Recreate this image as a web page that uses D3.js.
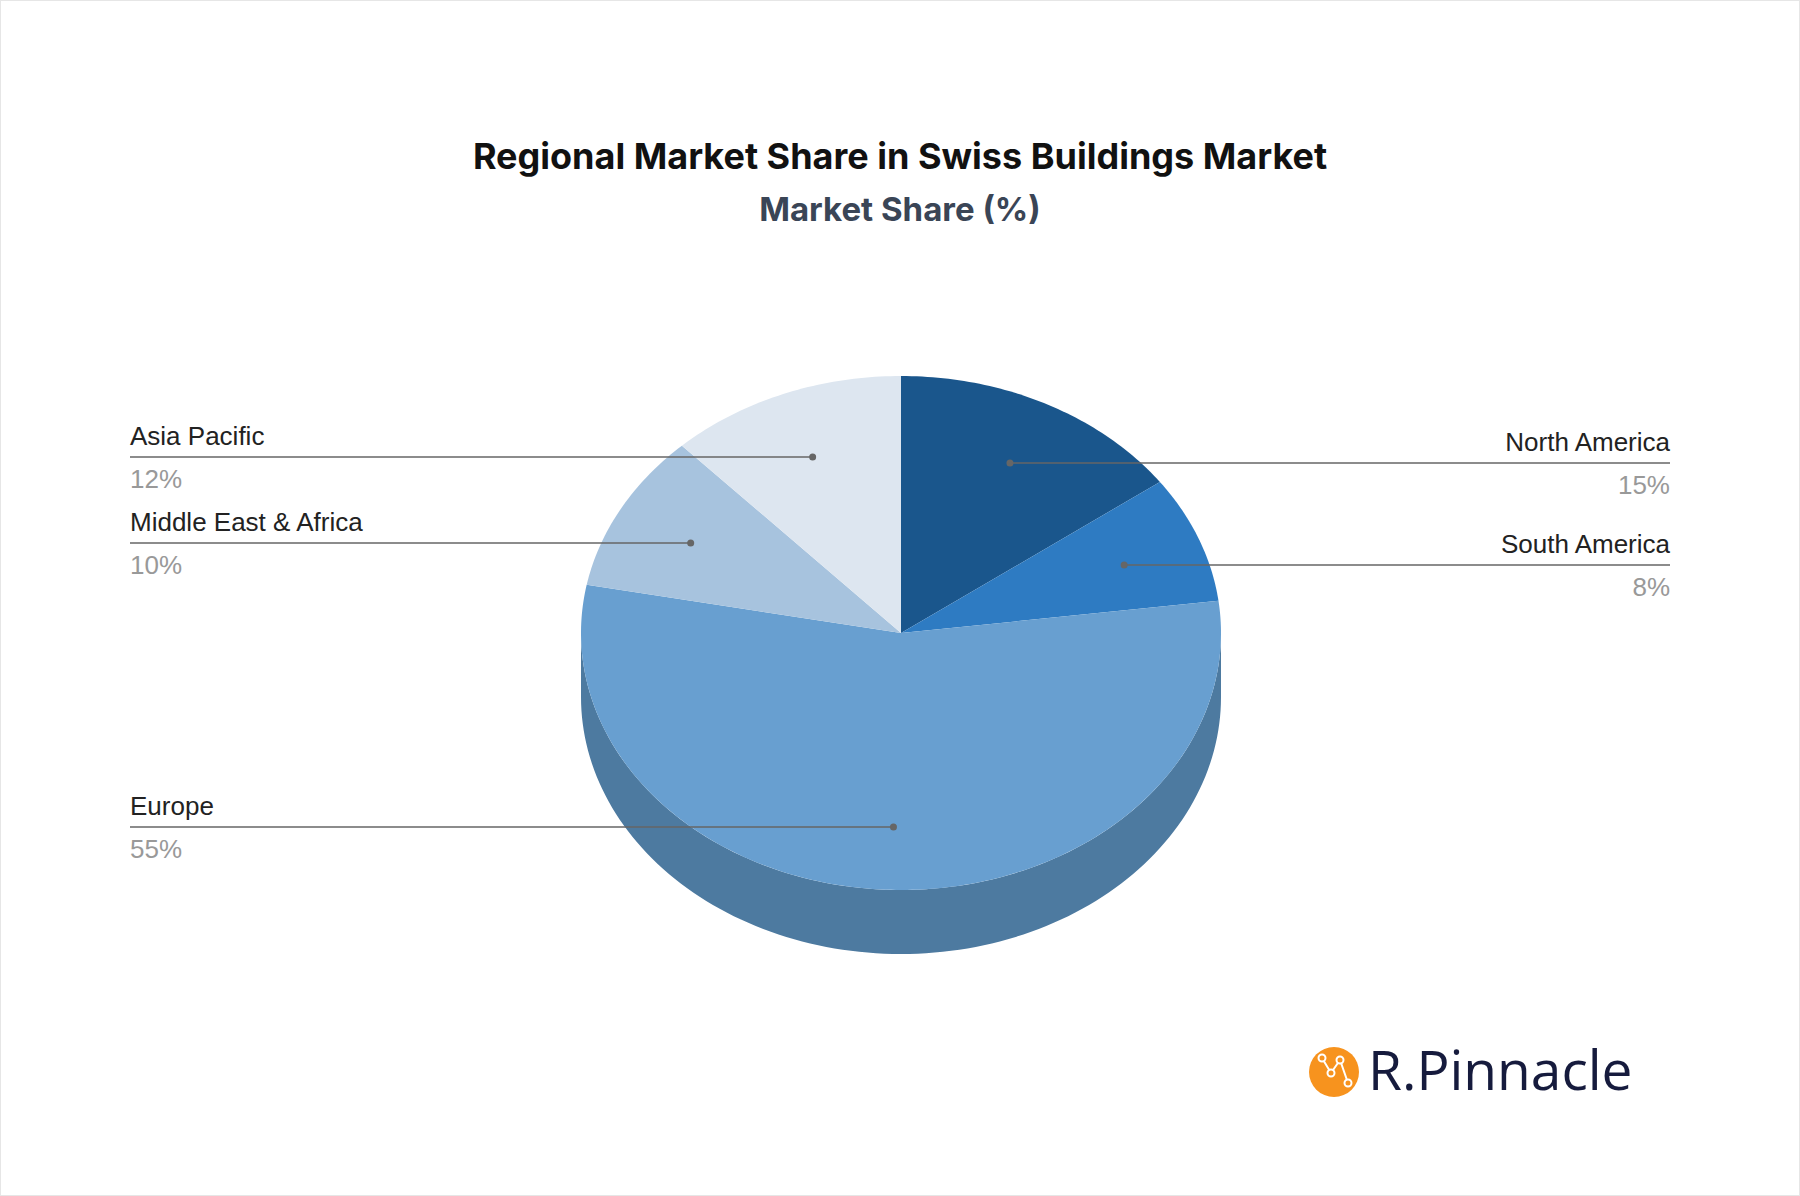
<!DOCTYPE html>
<html><head><meta charset="utf-8">
<script src="https://cdn.jsdelivr.net/npm/d3@7"></script>
<style>body{margin:0;background:#fff}svg{display:block}</style>
</head><body>
<svg id="chart" width="1800" height="1196"></svg>
<script>
var regions = ["North America", "South America", "Europe", "Middle East & Africa", "Asia Pacific"];
var shares = [15, 8, 55, 10, 12];
var colors = ["#1a568c", "#2e7bc2", "#689fd0", "#a7c3de", "#dde6f0"];
var labelSide = ["right", "right", "left", "left", "left"];
var labelLineY = [463, 565, 827, 543, 457];

var svg = d3.select('#chart');
var cx = 901, cy = 633, rx = 320, ry = 257, depth = 64;

svg.append('rect').attr('x', 0.5).attr('y', 0.5).attr('width', 1799).attr('height', 1195)
    .attr('fill', 'none').attr('stroke', '#e6e6e6');

svg.append('text').attr('x', 900).attr('y', 169).attr('text-anchor', 'middle')
    .style('font', 'bold 36px Inter, Roboto, sans-serif').attr('fill', '#111')
    .text('Regional Market Share in Swiss Buildings Market');
svg.append('text').attr('x', 900).attr('y', 221).attr('text-anchor', 'middle')
    .style('font', 'bold 33px Inter, Roboto, sans-serif').attr('fill', '#3a4556')
    .text('Market Share (%)');

function pt(a, r) {
    return [cx + rx * r * Math.sin(a), cy - ry * r * Math.cos(a)];
}

// side wall
var side = d3.path();
var steps = 120;
for (var i = 0; i <= steps; i++) {
    var a = Math.PI / 2 + Math.PI * i / steps;
    var p = pt(a, 1);
    if (i === 0) side.moveTo(p[0], p[1]); else side.lineTo(p[0], p[1]);
}
for (var j = steps; j >= 0; j--) {
    var b = Math.PI / 2 + Math.PI * j / steps;
    var q = pt(b, 1);
    side.lineTo(q[0], q[1] + depth);
}
side.closePath();
svg.append('path').attr('d', side.toString()).attr('fill', '#4d7aa0');

var pie = d3.pie().sort(null).value(function(d) { return d; });
var arcs = pie(shares);

svg.selectAll('path.slice')
    .data(arcs)
    .enter()
    .append('path')
    .attr('class', 'slice')
    .attr('fill', function(d, i) { return colors[i]; })
    .attr('d', function(d) {
        var p = d3.path();
        p.moveTo(cx, cy);
        var n = Math.max(2, Math.ceil((d.endAngle - d.startAngle) * 60));
        for (var k = 0; k <= n; k++) {
            var a = d.startAngle + (d.endAngle - d.startAngle) * k / n;
            var s = pt(a, 1);
            p.lineTo(s[0], s[1]);
        }
        p.closePath();
        return p.toString();
    });

// labels
var lab = svg.append('g');
arcs.forEach(function(d, i) {
    var mid = (d.startAngle + d.endAngle) / 2;
    var dot = pt(mid, 0.75);
    var ly = labelLineY[i];
    var right = labelSide[i] === 'right';
    var xEnd = right ? 1670 : 130;
    lab.append('line').attr('x1', dot[0]).attr('y1', ly).attr('x2', xEnd).attr('y2', ly)
        .attr('stroke', '#666').attr('stroke-width', 1.3);
    lab.append('circle').attr('cx', dot[0]).attr('cy', ly).attr('r', 3.5).attr('fill', '#666');
    lab.append('text').attr('x', xEnd).attr('y', ly - 12)
        .attr('text-anchor', right ? 'end' : 'start')
        .style('font', '26px "Liberation Sans", Arial, sans-serif').attr('fill', '#222')
        .text(regions[i]);
    lab.append('text').attr('x', xEnd).attr('y', ly + 31)
        .attr('text-anchor', right ? 'end' : 'start')
        .style('font', '26px "Liberation Sans", Arial, sans-serif').attr('fill', '#999')
        .text(shares[i] + '%');
});

// logo
var logo = svg.append('g');
logo.append('circle').attr('cx', 1334).attr('cy', 1072).attr('r', 25).attr('fill', '#f7931e');
var lp = [[1322, 1058], [1331, 1073], [1340, 1060], [1348, 1083]];
logo.append('path').attr('d', d3.line()(lp)).attr('fill', 'none').attr('stroke', '#fff').attr('stroke-width', 2);
lp.forEach(function(p) {
    logo.append('circle').attr('cx', p[0]).attr('cy', p[1]).attr('r', 3.5)
        .attr('fill', '#f7931e').attr('stroke', '#fff').attr('stroke-width', 2);
});
logo.append('text').attr('x', 1368).attr('y', 1090)
    .style('font', '55px "Open Sans", Lato, sans-serif').attr('fill', '#161b3d')
    .text('R.Pinnacle');
</script>
</body></html>
